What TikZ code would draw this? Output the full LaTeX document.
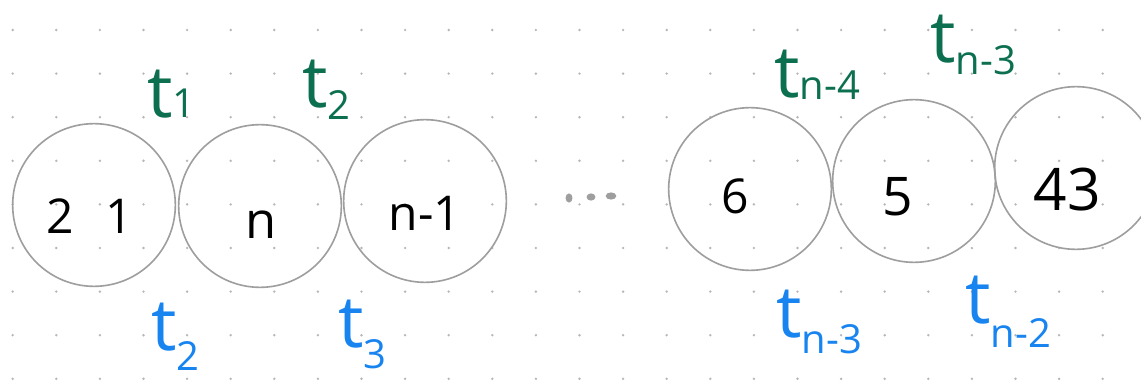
\documentclass[tikz,border=0pt]{standalone}
\usepackage{fontspec}
\setmainfont{Open Sans}
\usepackage{tikz}

\definecolor{inkgreen}{RGB}{12,112,80}
\definecolor{inkblue}{RGB}{24,132,240}
\definecolor{ringgray}{RGB}{158,158,158}
\definecolor{dotgray}{RGB}{182,182,182}
\newcommand{\tsub}[2][8pt]{t\raisebox{-#1}{\fontsize{30}{30}\selectfont #2}}

\begin{document}
\begin{tikzpicture}[x=0.75pt, y=-0.75pt,
      ring/.style={circle, draw=ringgray, line width=1.2pt, minimum size=122pt, inner sep=0pt},
      num/.style={anchor=base, inner sep=0pt, font=\fontsize{36}{36}\selectfont},
      tgreen/.style={anchor=base west, inner sep=0pt, text=inkgreen, font=\fontsize{54}{54}\selectfont},
      tblue/.style={anchor=base west, inner sep=0pt, text=inkblue, font=\fontsize{54}{54}\selectfont}]
    \clip (0,0) rectangle (1141,385);
    \fill[white] (0,0) rectangle (1141,385);
    \foreach \i in {0,...,26}
      \foreach \j in {0,...,8}
        \fill[dotgray] (12.7+43.6*\i, 30+43.6*\j) circle (1pt);
    \node[ring] (c1) at (94, 205) {};
    \node[ring] (c2) at (260, 206) {};
    \node[ring] (c3) at (425, 201) {};
    \node[ring] (c4) at (750, 189) {};
    \node[ring] (c5) at (914, 181) {};
    \node[ring] (c6) at (1076, 168) {};
    \node[num] (n1) at (90, 233) {2\hspace{24pt}1};
    \node[num, font=\fontsize{38}{38}\selectfont] (n2) at (261, 238) {n};
    \node[num] (n3) at (425, 230) {n-1};
    \node[num] (n4) at (735, 213) {6};
    \node[num, font=\fontsize{40}{40}\selectfont] (n5) at (898, 215) {5};
    \node[num, font=\fontsize{44}{44}\selectfont] (n6) at (1067, 210) {43};
    \fill[ringgray] (569, 198) ellipse (2.6pt and 3.4pt);
    \fill[ringgray] (591, 197) ellipse (3.3pt and 2.7pt);
    \fill[ringgray] (611, 196) ellipse (4pt and 2.7pt);
    \node[tgreen] (g1) at (147, 117) {\tsub[0pt]{1}};
    \node[tgreen] (g2) at (302, 108) {\tsub[9pt]{2}};
    \node[tgreen] (g3) at (774, 97) {\tsub[2pt]{n-4}};
    \node[tgreen] (g4) at (930, 63) {\tsub[9pt]{n-3}};
    \node[tblue] (b1) at (151, 350) {\tsub[15pt]{2}};
    \node[tblue] (b2) at (338, 347) {\tsub[16pt]{3}};
    \node[tblue] (b3) at (776, 337) {\tsub[12pt]{n-3}};
    \node[tblue] (b4) at (965, 323) {\tsub[18pt]{n-2}};
  \end{tikzpicture}
\end{document}
